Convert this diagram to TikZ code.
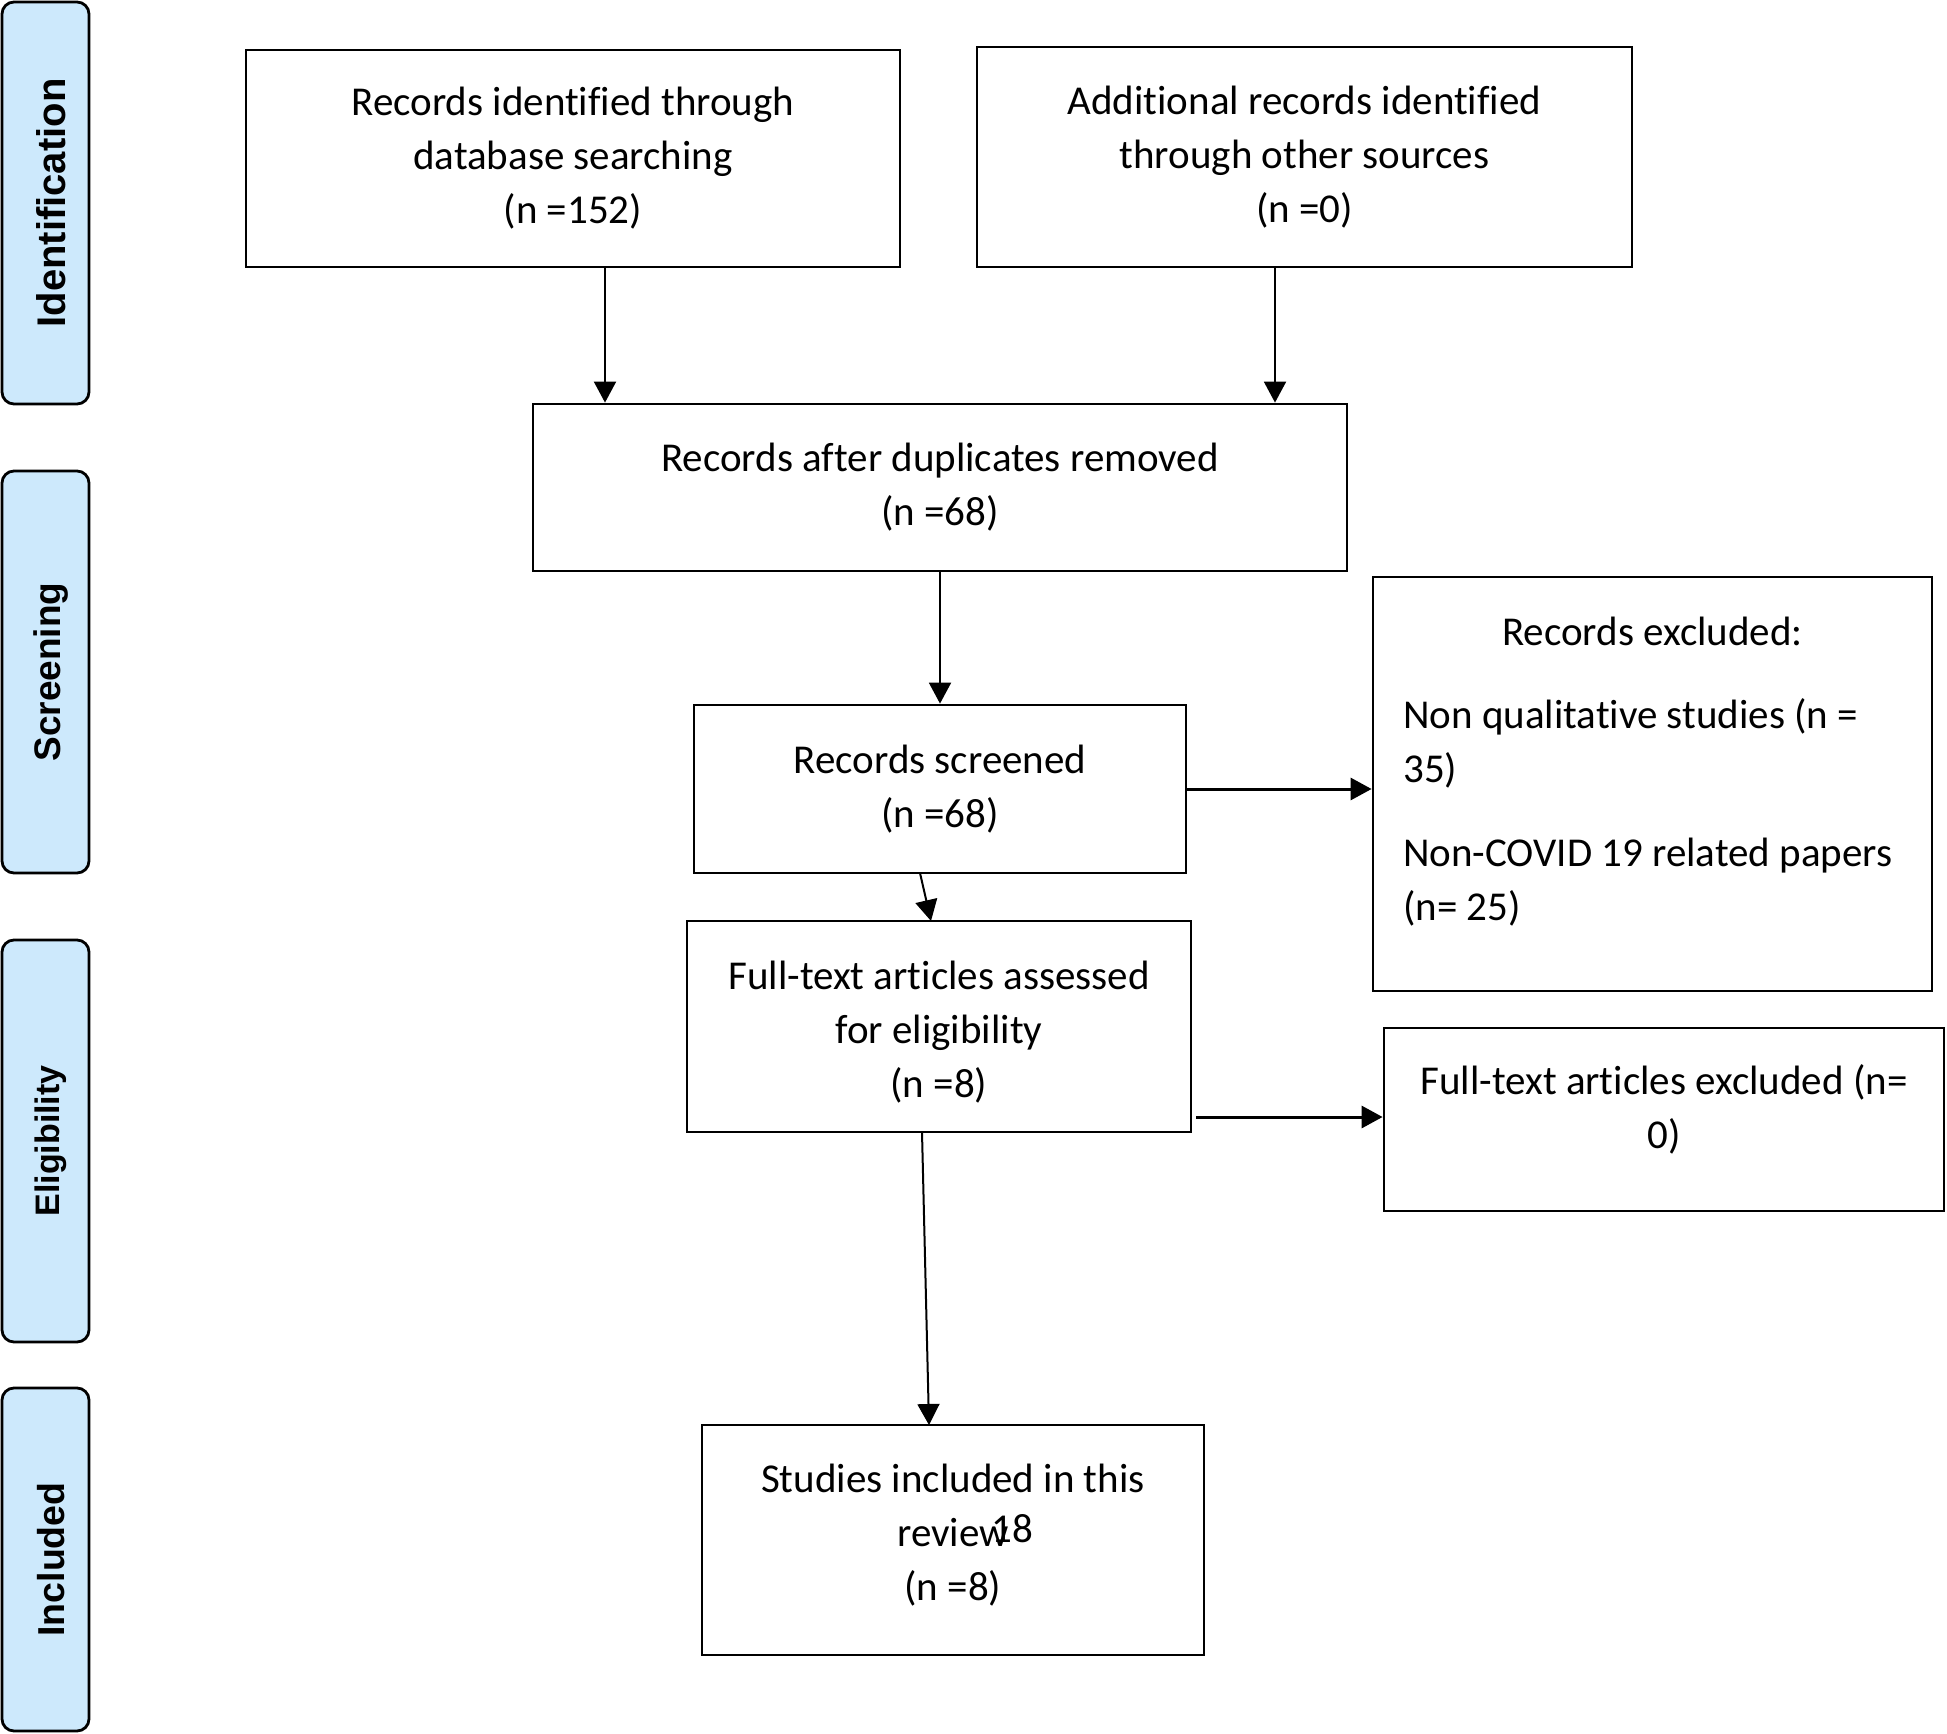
\documentclass[tikz,border=0pt]{standalone}
\usepackage{fontspec}
\setmainfont{Carlito}[Ligatures=NoCommon]
\newfontfamily\sidefont{Liberation Sans}
\usetikzlibrary{arrows.meta}
\definecolor{sideblue}{RGB}{205,233,252}
\begin{document}
\begin{tikzpicture}[x=1pt,y=-1pt,
  box/.style={draw=black, line width=2.8pt, align=center, inner sep=0pt,
    font=\fontsize{41}{54}\selectfont},
  txt/.style={inner sep=0pt, align=center, font=\fontsize{41}{54}\selectfont},
  side/.style={draw=black, line width=2.8pt, fill=sideblue, rounded corners=12pt,
    minimum width=87pt, inner sep=0pt},
  sidetext/.style={rotate=90, inner sep=0pt,
    font=\sidefont\bfseries\fontsize{#1}{44}\selectfont},
  conn/.style={line width=2pt, -{Triangle[length=21pt,width=22pt]}},
  hconn/.style={line width=3pt, -{Triangle[length=21pt,width=22pt]}}]
\path[use as bounding box] (0,0) rectangle (1947,1734);

% side labels
\node[side, minimum height=402pt] (s1) at (45.5,203) {};
\node[side, minimum height=402pt] (s2) at (45.5,672) {};
\node[side, minimum height=402pt] (s3) at (45.5,1141) {};
\node[side, minimum height=343pt] (s4) at (45.5,1559.5) {};
\node[sidetext=40] (t1) at (51,203) {Identification};
\node[sidetext=37] (t2) at (51,672) {Screening};
\node[sidetext=34] (t3) at (51,1141) {Eligibility};
\node[sidetext=37.5] (t4) at (51,1559.5) {Included};

% boxes
\node[box, minimum width=654pt, minimum height=217pt] (A) at (573,158.5)
  {Records identified through\\ database searching\\ (n =152)};
\node[box, minimum width=655pt, minimum height=220pt] (B) at (1304.5,157)
  {Additional records identified\\ through other sources\\ (n =0)};
\node[box, minimum width=814pt, minimum height=167pt] (C) at (940,487.5)
  {Records after duplicates removed\\ (n =68)};
\node[box, minimum width=492pt, minimum height=168pt] (D) at (940,789)
  {Records screened\\ (n =68)};

\node[box, minimum width=559pt, minimum height=414pt] (E) at (1652.5,784) {};
\node[txt, anchor=base] (E1) at (1652.5,645) {Records excluded:};
\node[txt, anchor=base west] (E2) at (1403,728) {Non qualitative studies (n =};
\node[txt, anchor=base west] (E3) at (1403,782) {35)};
\node[txt, anchor=base west] (E4) at (1403,866) {Non-COVID 19 related papers};
\node[txt, anchor=base west] (E5) at (1403,920) {(n= 25)};

\node[box, minimum width=504pt, minimum height=211pt] (F) at (939,1026.5) {};
\node[txt] (Ft) at (939,1032)
  {Full-text articles assessed\\ for eligibility\\ (n =8)};

\node[box, minimum width=560pt, minimum height=183pt] (G) at (1664,1119.5) {};
\node[txt] (Gt) at (1664,1109) {Full-text articles excluded (n=\\ 0)};

\node[box, minimum width=502pt, minimum height=230pt] (H) at (953,1540) {};
\node[txt] (Ht) at (953,1535)
  {Studies included in this\\ review\rlap{\kern-17pt\raisebox{4pt}{18}}\\ (n =8)};

% connector coordinates
\coordinate (a1) at (605,0);
\coordinate (b1) at (1275,0);
\coordinate (df1) at (920,873);
\coordinate (df2) at (931,921);
\coordinate (fg1) at (1196,1117);
\coordinate (fh1) at (922,1132);
\coordinate (fh2) at (929,1425);

\draw[conn] (a1 |- A.south) -- (a1 |- C.north);
\draw[conn] (b1 |- B.south) -- (b1 |- C.north);
\draw[conn] (C.south) -- (D.north);
\draw[hconn] (D.east) -- (E.west |- D.east);
\draw[conn] (df1) -- (df2);
\draw[hconn] (fg1) -- (G.west |- fg1);
\draw[conn] (fh1) -- (fh2);
\end{tikzpicture}
\end{document}
